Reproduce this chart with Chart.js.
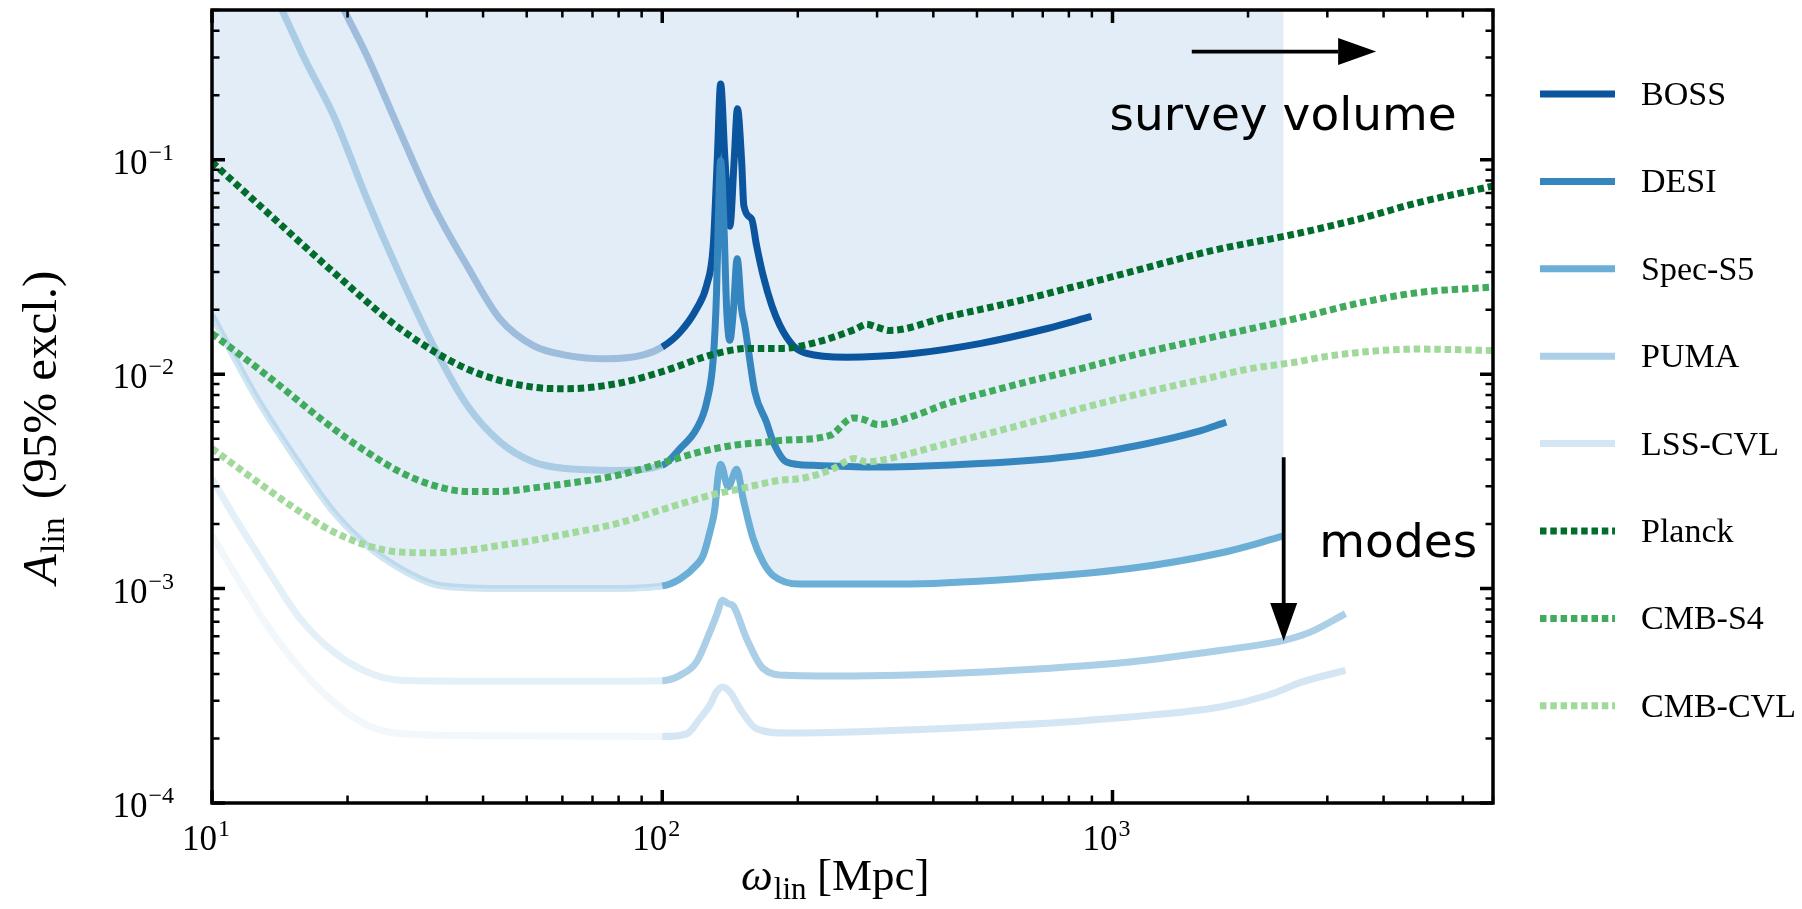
<!DOCTYPE html>
<html>
<head>
<meta charset="utf-8">
<title>A_lin constraints</title>
<script src="https://cdn.jsdelivr.net/npm/chart.js@4.4.1/dist/chart.umd.min.js"></script>
<style>
  html, body { margin: 0; padding: 0; background: #ffffff; }
  #wrap { width: 1802px; height: 909px; }
</style>
</head>
<body>
<div id="wrap"><canvas id="chart" width="1802" height="909"></canvas></div>
<script>
// axis ranges
const xMin = 10, xMax = 7000;
const yMin = 1e-4, yMax = 0.5;
const xMajor = [10, 100, 1000];
const yMajor = [1e-4, 1e-3, 1e-2, 1e-1];

// LSS surveys (points below 100 Mpc are drawn faded)
const bossX = [18.9, 19.66, 22.08, 26.17, 31.02, 36.81, 43.63, 51.73, 61.35, 75.25, 90.76, 100, 109.5, 119.2, 125.5, 129.8, 132.5, 134.8, 137.8, 141.3, 144.5, 146.9, 150.0, 151.8, 157.9, 162.0, 167.5, 175.0, 182.5, 195.3, 209.2, 256.6, 360.6, 507, 712.9, 897.5];
const bossY = [0.6, 0.5, 0.306, 0.135, 0.0612, 0.0322, 0.0181, 0.0136, 0.01225, 0.0118, 0.0123, 0.0134, 0.0157, 0.0202, 0.026, 0.0398, 0.101, 0.226, 0.101, 0.049, 0.101, 0.173, 0.101, 0.061, 0.053, 0.0398, 0.0289, 0.021, 0.0169, 0.0136, 0.0125, 0.012, 0.0125, 0.0139, 0.0163, 0.0186];

const desiX = [13.6, 14.3, 16.2, 18.62, 22.08, 26.17, 31.02, 36.81, 43.63, 51.73, 61.35, 79.2, 100, 109.5, 119.2, 125.5, 129.8, 132.0, 133.1, 134.3, 134.8, 137.1, 139.0, 141.3, 143.8, 146.7, 150.0, 152.5, 160.6, 170.4, 176.4, 188.8, 216.4, 304.2, 507, 845, 1189, 1535, 1789];
const desiY = [0.62, 0.5, 0.285, 0.161, 0.0658, 0.0289, 0.0136, 0.0072, 0.00483, 0.0039, 0.00363, 0.00356, 0.00376, 0.0045, 0.00557, 0.00741, 0.0118, 0.0241, 0.049, 0.0908, 0.099, 0.0494, 0.0202, 0.0144, 0.0195, 0.0346, 0.0202, 0.0169, 0.00826, 0.00598, 0.00483, 0.0039, 0.00376, 0.00369, 0.00383, 0.00418, 0.00474, 0.00538, 0.00598];

const specX = [10, 12.59, 15.7, 18.62, 22.08, 26.17, 31.02, 36.81, 50, 75, 100, 109.5, 119.2, 123.3, 127.6, 130.9, 133.1, 134.8, 140.1, 146.3, 151.2, 159.2, 167.5, 176.4, 202.1, 337, 606, 1091, 1746, 2400];
const specY = [0.0188, 0.0077, 0.00376, 0.00228, 0.00159, 0.00124, 0.00105, 0.00101, 0.001, 0.001, 0.00103, 0.00111, 0.00129, 0.00143, 0.00184, 0.00236, 0.00337, 0.0038, 0.00298, 0.0036, 0.00263, 0.00171, 0.00133, 0.00115, 0.00105, 0.00105, 0.00111, 0.00124, 0.00147, 0.00176];

const pumaX = [10, 11.17, 13.25, 15.7, 18.62, 22.08, 26.17, 40, 70, 100, 109.5, 119.2, 127.6, 132.0, 136.2, 140.1, 143.8, 153.9, 167.5, 188.8, 239.6, 337, 606, 1091, 1746, 2402, 2740, 3291];
const pumaY = [0.00326, 0.00219, 0.00124, 0.000724, 0.000507, 0.000409, 0.000374, 0.00037, 0.00037, 0.000372, 0.000394, 0.000455, 0.000628, 0.000752, 0.000883, 0.000851, 0.00083, 0.000585, 0.000424, 0.000394, 0.000391, 0.000394, 0.000416, 0.000455, 0.000516, 0.000574, 0.000625, 0.000764];

const lssX = [10, 11.17, 13.25, 15.7, 18.62, 22.08, 26.17, 40, 70, 100, 113.3, 121.3, 127.6, 132, 136.2, 141.3, 148.7, 162, 188.8, 274.6, 606, 1091, 1746, 2212, 2640, 3291];
const lssY = [0.00178, 0.0012, 0.000675, 0.000424, 0.000296, 0.000231, 0.000211, 0.000206, 0.000205, 0.000204, 0.00021, 0.000248, 0.000286, 0.00033, 0.000348, 0.00033, 0.000276, 0.000222, 0.000212, 0.000215, 0.000231, 0.000252, 0.000281, 0.000318, 0.000367, 0.000416];

// CMB experiments
const planckX = [10, 13.25, 18.62, 26.17, 36.81, 51.73, 61.35, 79.2, 98.83, 132, 156.5, 185.6, 220.2, 235.6, 270, 284.2, 299.1, 320.2, 427.8, 601.2, 845.3, 1129, 1671, 2558, 3541, 4751, 7000];
const planckY = [0.0975, 0.057, 0.0299, 0.0163, 0.0106, 0.0087, 0.00856, 0.00904, 0.0102, 0.0125, 0.0132, 0.0132, 0.0141, 0.0147, 0.0163, 0.0171, 0.0166, 0.016, 0.0185, 0.0217, 0.026, 0.0305, 0.0378, 0.0452, 0.0531, 0.063, 0.0755];

const s4X = [10, 13.25, 18.62, 22.08, 26.17, 31.02, 36.81, 43.63, 51.73, 61.35, 79.2, 98.83, 121.3, 143.8, 170.4, 182.5, 235.6, 265.4, 279.3, 301.6, 360.6, 427.8, 601.2, 845.3, 1189, 1671, 2558, 3541, 4751, 7000];
const s4Y = [0.0155, 0.00986, 0.00557, 0.00434, 0.0035, 0.00303, 0.00284, 0.00284, 0.00295, 0.00309, 0.00337, 0.00383, 0.00434, 0.00466, 0.00483, 0.00491, 0.00518, 0.00625, 0.00616, 0.00582, 0.00638, 0.00728, 0.00887, 0.0106, 0.0127, 0.0149, 0.0182, 0.0215, 0.024, 0.0255];

const cvlX = [10, 13.25, 15.7, 18.62, 22.08, 26.17, 31.02, 36.81, 43.63, 51.73, 61.35, 79.2, 98.83, 127.6, 148.7, 182.5, 202.1, 235.6, 267.7, 284.2, 304.2, 427.8, 601.2, 845.3, 1189, 1671, 1965, 2558, 3057, 4751, 7000];
const cvlY = [0.0045, 0.00292, 0.00228, 0.00184, 0.00159, 0.00148, 0.00147, 0.00151, 0.00159, 0.00168, 0.0018, 0.00201, 0.00232, 0.00272, 0.00292, 0.0032, 0.00326, 0.00356, 0.00404, 0.0039, 0.00396, 0.00474, 0.00567, 0.0069, 0.00826, 0.0097, 0.0105, 0.0114, 0.0122, 0.0131, 0.0129];

const names = ['BOSS', 'DESI', 'Spec-S5', 'PUMA', 'LSS-CVL', 'Planck', 'CMB-S4', 'CMB-CVL'];
const colors = ['#0b559f', '#3585bf', '#6baed6', '#abcfe6', '#d4e5f3', '#006d2c', '#41ab5d', '#a1d99b'];
const seriesX = [bossX, desiX, specX, pumaX, lssX, planckX, s4X, cvlX];
const seriesY = [bossY, desiY, specY, pumaY, lssY, planckY, s4Y, cvlY];
const dotted = [false, false, false, false, false, true, true, true];

const shadeColor = '#e3edf8';
const lineW = 7;
const dash = [6.5, 3.8];
const serif = '"Liberation Serif", "DejaVu Serif", serif';
const sans = '"DejaVu Sans", sans-serif';

function faded(hex) {
  const n = parseInt(hex.slice(1), 16);
  return `rgba(${(n >> 16) & 255}, ${(n >> 8) & 255}, ${n & 255}, 0.32)`;
}

function points(xArr, yArr) {
  return xArr.map((x, j) => ({ x: x, y: yArr[j] }));
}

const datasets = names.map((name, i) => {
  const ds = {
    label: name,
    data: points(seriesX[i], seriesY[i]),
    borderColor: colors[i],
    borderWidth: lineW,
    pointRadius: 0,
    cubicInterpolationMode: 'monotone',
    borderJoinStyle: 'round',
    borderCapStyle: 'butt',
    fill: false,
    clip: 0,
    order: 10 - i
  };
  if (dotted[i]) {
    ds.borderDash = dash;
  } else {
    ds.segment = {
      borderColor: ctx => ctx.p0.parsed.x < 100 ? faded(colors[i]) : undefined
    };
  }
  return ds;
});

// shaded region above the Spec-S5 curve (fill only, no line)
datasets.push({
  label: 'region',
  data: points(specX, specY),
  borderWidth: 0,
  borderColor: 'rgba(0,0,0,0)',
  backgroundColor: shadeColor,
  pointRadius: 0,
  cubicInterpolationMode: 'monotone',
  fill: 'end',
  clip: 0,
  order: 20
});

function drawPower(ctx, exp, x, y, align) {
  const base = '10';
  const sup = (exp < 0 ? '\u2212' : '') + Math.abs(exp);
  ctx.font = `35px ${serif}`;
  const wb = ctx.measureText(base).width;
  ctx.font = `24px ${serif}`;
  const ws = ctx.measureText(sup).width;
  const total = wb + 1 + ws;
  let left = align === 'right' ? x - total : x - total / 2;
  ctx.textAlign = 'left';
  ctx.textBaseline = 'alphabetic';
  ctx.font = `35px ${serif}`;
  ctx.fillText(base, left, y);
  ctx.font = `24px ${serif}`;
  ctx.fillText(sup, left + wb + 1, y - 14);
}

function arrow(ctx, x1, y1, x2, y2) {
  const ang = Math.atan2(y2 - y1, x2 - x1);
  const headLen = 38, headW = 13.5;
  const bx = x2 - headLen * Math.cos(ang), by = y2 - headLen * Math.sin(ang);
  ctx.strokeStyle = '#000';
  ctx.lineWidth = 3.8;
  ctx.beginPath();
  ctx.moveTo(x1, y1);
  ctx.lineTo(bx, by);
  ctx.stroke();
  ctx.fillStyle = '#000';
  ctx.beginPath();
  ctx.moveTo(x2, y2);
  ctx.lineTo(bx - headW * Math.sin(ang), by + headW * Math.cos(ang));
  ctx.lineTo(bx + headW * Math.sin(ang), by - headW * Math.cos(ang));
  ctx.closePath();
  ctx.fill();
}

const decorations = {
  id: 'decorations',
  afterDraw(chart) {
    const ctx = chart.ctx;
    const a = chart.chartArea;
    const xs = chart.scales.x, ys = chart.scales.y;
    ctx.save();

    // frame
    ctx.strokeStyle = '#000';
    ctx.lineWidth = 3.5;
    ctx.strokeRect(a.left, a.top, a.right - a.left, a.bottom - a.top);

    // inward ticks on all four sides
    for (let e = 1; e <= 3; e++) {
      for (let m = 1; m <= 9; m++) {
        const v = m * Math.pow(10, e);
        if (v < xMin || v > xMax) continue;
        const px = xs.getPixelForValue(v);
        const len = m === 1 ? 13 : 7.5;
        ctx.lineWidth = m === 1 ? 3.5 : 2.5;
        ctx.beginPath();
        ctx.moveTo(px, a.bottom); ctx.lineTo(px, a.bottom - len);
        ctx.moveTo(px, a.top); ctx.lineTo(px, a.top + len);
        ctx.stroke();
      }
    }
    for (let e = -4; e <= -1; e++) {
      for (let m = 1; m <= 9; m++) {
        const v = m * Math.pow(10, e);
        if (v < yMin * 0.999 || v > yMax * 1.001) continue;
        const py = ys.getPixelForValue(v);
        const len = m === 1 ? 13 : 7.5;
        ctx.lineWidth = m === 1 ? 3.5 : 2.5;
        ctx.beginPath();
        ctx.moveTo(a.left, py); ctx.lineTo(a.left + len, py);
        ctx.moveTo(a.right, py); ctx.lineTo(a.right - len, py);
        ctx.stroke();
      }
    }

    // tick labels
    ctx.fillStyle = '#000';
    xMajor.forEach(v => {
      drawPower(ctx, Math.round(Math.log10(v)), xs.getPixelForValue(v) - 6, 850, 'center');
    });
    yMajor.forEach(v => {
      drawPower(ctx, Math.round(Math.log10(v)), 174, ys.getPixelForValue(v) + 14, 'right');
    });

    // x axis label
    ctx.textAlign = 'left';
    ctx.textBaseline = 'alphabetic';
    ctx.font = `italic 45px ${serif}`;
    let cx = 741;
    ctx.fillText('\u03c9', cx, 890);
    cx += ctx.measureText('\u03c9').width + 1;
    ctx.font = `31px ${serif}`;
    ctx.fillText('lin', cx, 899);
    ctx.font = `45px ${serif}`;
    ctx.fillText('[Mpc]', 817, 890);

    // y axis label
    ctx.save();
    ctx.translate(56, 584);
    ctx.rotate(-Math.PI / 2);
    ctx.font = `italic 49px ${serif}`;
    ctx.fillText('A', 0, 0);
    let ty = ctx.measureText('A').width + 1;
    ctx.font = `34px ${serif}`;
    ctx.fillText('lin', ty, 8);
    ty += ctx.measureText('lin').width + 18;
    ctx.font = `49px ${serif}`;
    ctx.fillText('(95% excl.)', ty, 0);
    ctx.restore();

    // annotations
    arrow(ctx, xs.getPixelForValue(1500), ys.getPixelForValue(0.32), xs.getPixelForValue(3850), ys.getPixelForValue(0.32));
    arrow(ctx, xs.getPixelForValue(2400), ys.getPixelForValue(0.0041), xs.getPixelForValue(2400), ys.getPixelForValue(0.00057));
    ctx.fillStyle = '#000';
    ctx.font = `47px ${sans}`;
    ctx.fillText('survey volume', xs.getPixelForValue(985), ys.getPixelForValue(0.138));
    ctx.fillText('modes', xs.getPixelForValue(2880), ys.getPixelForValue(0.00141));

    // legend
    names.forEach((name, i) => {
      const y = 94 + i * 87.4;
      ctx.strokeStyle = colors[i];
      ctx.lineWidth = lineW;
      ctx.lineCap = 'butt';
      ctx.setLineDash(dotted[i] ? dash : []);
      ctx.beginPath();
      ctx.moveTo(1540, y);
      ctx.lineTo(1615, y);
      ctx.stroke();
      ctx.setLineDash([]);
      ctx.fillStyle = '#000';
      ctx.font = `34px ${serif}`;
      ctx.fillText(name, 1641, y + 11);
    });

    ctx.restore();
  }
};

new Chart(document.getElementById('chart').getContext('2d'), {
  type: 'line',
  data: { datasets: datasets },
  options: {
    responsive: false,
    devicePixelRatio: 1,
    animation: false,
    layout: { padding: { left: 212, right: 309, top: 10, bottom: 106 } },
    scales: {
      x: { type: 'logarithmic', min: xMin, max: xMax, display: false },
      y: { type: 'logarithmic', min: yMin, max: yMax, display: false }
    },
    plugins: {
      legend: { display: false },
      tooltip: { enabled: false },
      filler: { drawTime: 'beforeDatasetsDraw' }
    }
  },
  plugins: [decorations]
});
</script>
</body>
</html>
